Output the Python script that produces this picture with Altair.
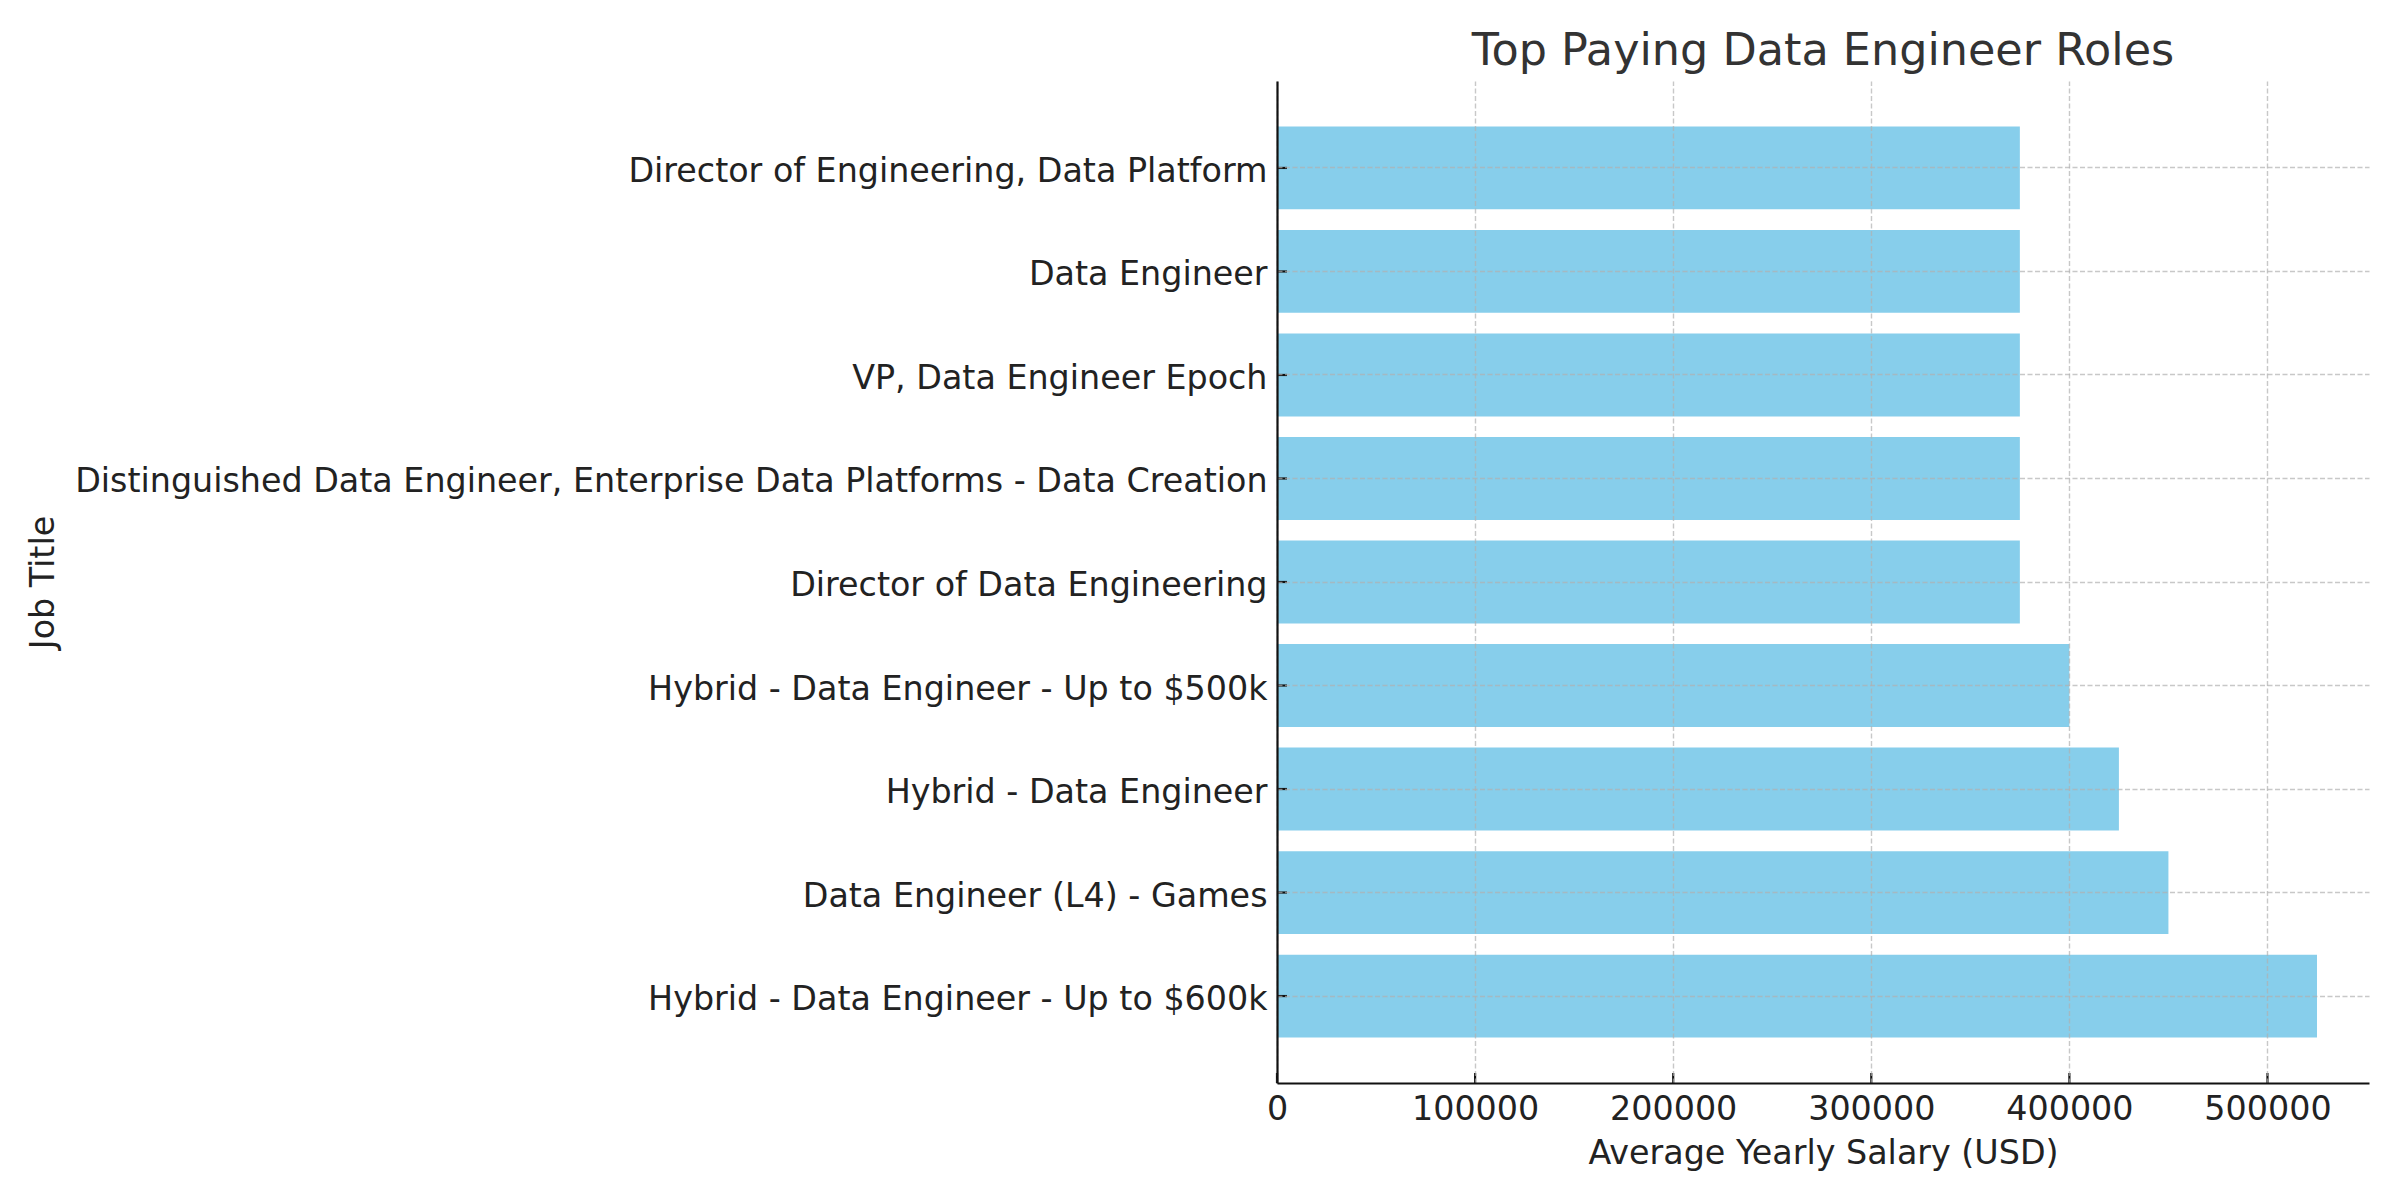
import altair as alt
import pandas as pd

titles = [
    "Director of Engineering, Data Platform",
    "Data Engineer",
    "VP, Data Engineer Epoch",
    "Distinguished Data Engineer, Enterprise Data Platforms - Data Creation",
    "Director of Data Engineering",
    "Hybrid - Data Engineer - Up to $500k",
    "Hybrid - Data Engineer",
    "Data Engineer (L4) - Games",
    "Hybrid - Data Engineer - Up to $600k",
]
salaries = [375000, 375000, 375000, 375000, 375000, 400000, 425000, 450000, 525000]
x_ticks = [0, 100000, 200000, 300000, 400000, 500000]

W, H = 1092, 1002
FONT = "DejaVu Sans"
FS = 33.33
XTITLE = "Average Yearly Salary (USD)"
YTITLE = "Job Title"

df = pd.DataFrame({"title": titles, "salary": salaries})
ticks_df = pd.DataFrame({"salary": x_ticks})

xscale = alt.Scale(domain=[0, 551250], nice=False, zero=True)
yscale = alt.Scale(type="band", paddingInner=0.2, paddingOuter=0.44)

bars = alt.Chart(df).mark_bar(color="#87CEEB").encode(
    x=alt.X(
        "salary:Q",
        scale=xscale,
        title=XTITLE,
        axis=alt.Axis(
            values=x_ticks,
            format="d",
            labelFont=FONT,
            labelFontSize=FS,
            labelColor="#222222",
            labelPadding=10,
            labelFlush=False,
            labelOverlap=False,
            ticks=False,
            tickSize=0,
            titleFont=FONT,
            titleFontSize=FS,
            titleFontWeight="normal",
            titleColor="#222222",
            titleBaseline="alphabetic",
            titleY=80,
            domainColor="#111111",
            domainWidth=2.2,
            grid=True,
            gridColor="#b0b0b0",
            gridOpacity=0.7,
            gridWidth=1.4,
            gridDash=[5, 2.5],
            zindex=1,
        ),
    ),
    y=alt.Y(
        "title:N",
        sort=titles,
        scale=yscale,
        title=YTITLE,
        axis=alt.Axis(
            labelFont=FONT,
            labelFontSize=FS,
            labelColor="#222222",
            labelPadding=10,
            labelLimit=3000,
            labelOverlap=False,
            labelOffset=4,
            ticks=False,
            tickSize=0,
            bandPosition=0.5,
            titleFont=FONT,
            titleFontSize=FS,
            titleFontWeight="normal",
            titleColor="#222222",
            titleAngle=-90,
            titleBaseline="alphabetic",
            titleAlign="center",
            titleX=-1224,
            titleY=H / 2,
            domainColor="#111111",
            domainWidth=2.2,
            grid=True,
            gridColor="#b0b0b0",
            gridOpacity=0.7,
            gridWidth=1.4,
            gridDash=[5, 2.5],
            zindex=1,
        ),
    ),
)

xtick_rules = alt.Chart(ticks_df).mark_rule(color="#111111", strokeWidth=2.2).encode(
    x=alt.X("salary:Q", scale=xscale, title=XTITLE),
    y=alt.value(H - 10),
    y2=alt.value(H),
)

ytick_rules = alt.Chart(df).mark_rule(color="#111111", strokeWidth=2.2).encode(
    y=alt.Y("title:N", sort=titles, scale=yscale, title=YTITLE, bandPosition=0.5),
    x=alt.value(0),
    x2=alt.value(10),
)

chart = (
    alt.layer(bars, xtick_rules, ytick_rules)
    .properties(
        width=W,
        height=H,
        view=alt.ViewBackground(stroke="transparent", strokeWidth=0),
        title=alt.TitleParams(
            "Top Paying Data Engineer Roles",
            font=FONT,
            fontSize=44.5,
            fontWeight="normal",
            color="#333333",
            anchor="middle",
            baseline="alphabetic",
            offset=9,
            dy=37,
        ),
        padding={"left": 1269, "top": 73, "right": 20, "bottom": 100},
        autosize=alt.AutoSizeParams(type="none"),
    )
    .configure_view(strokeWidth=0, stroke="transparent")
    .configure(background="white")
)

chart.save("out.html", embed_options={"renderer": "svg", "actions": False})
